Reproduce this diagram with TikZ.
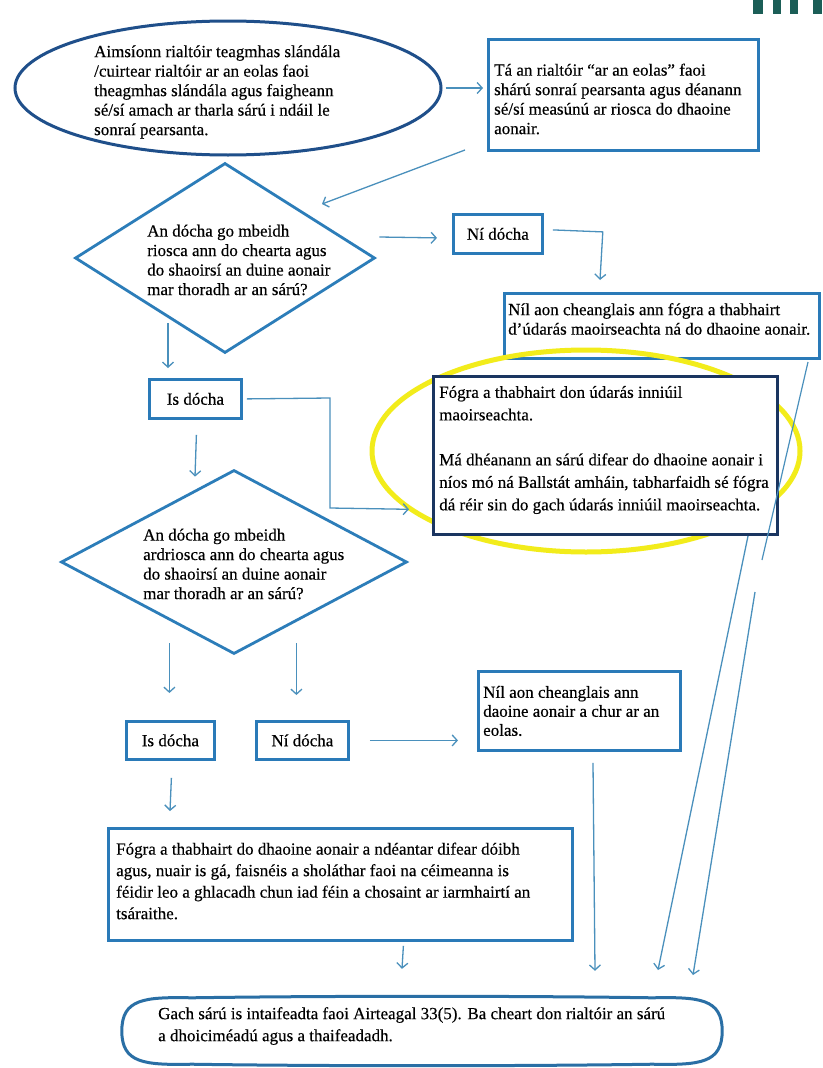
\documentclass[tikz,border=0pt]{standalone}
\usepackage{fontspec}
\setmainfont{Liberation Serif}[FakeBold=0.35]
\usetikzlibrary{arrows.meta,shapes.geometric,calc}
\definecolor{ellblue}{HTML}{1F4F8A}
\definecolor{boxblue}{HTML}{2A7AB8}
\definecolor{diablue}{HTML}{2C7DB9}
\definecolor{arrblue}{HTML}{4A90BC}
\definecolor{navy}{HTML}{1A3560}
\definecolor{ell2blue}{HTML}{2A6FA5}
\definecolor{hiyellow}{HTML}{F2EC1B}
\definecolor{logogreen}{HTML}{1B5E57}
\begin{document}
\begin{tikzpicture}[x=1pt,y=-1pt,
  txt/.style={inner sep=0pt, align=left, font=\fontsize{17}{19.5}\selectfont, text=black},
  box/.style={draw=boxblue, line width=2.8pt, fill=white, inner sep=0pt, anchor=north west},
  arr/.style={draw=arrblue, line width=1.3pt, -{Straight Barb[length=5pt,width=11pt,line width=1.3pt]}},
  thinln/.style={draw=arrblue, line width=1.2pt},
  dia/.style={diamond, draw=diablue, line width=2.8pt, fill=white, inner sep=0pt}]
\useasboundingbox (0,0) rectangle (822,1068);
\fill[white] (0,0) rectangle (822,1068);
% logo fragment
\fill[logogreen] (753,0) rectangle (763,14);
\fill[logogreen] (773,0) rectangle (781,14);
\fill[logogreen] (790,0) rectangle (798,14);
\fill[logogreen] (813,0) rectangle (822,14);

% top ellipse
\node[ellipse, draw=ellblue, line width=3pt, fill=white, minimum width=426, minimum height=134, inner sep=0pt] (e1) at (228,88) {};
\node[txt, anchor=west] (e1t) at (94,92) {Aimsíonn rialtóir teagmhas slándála\\/cuirtear rialtóir ar an eolas faoi\\theagmhas slándála agus faigheann\\sé/sí amach ar tharla sárú i ndáil le\\sonraí pearsanta.};

% top right box
\node[box, minimum width=270, minimum height=111] (b2) at (487,38) {};
\node[txt, anchor=west] (b2t) at (494,99) {Tá an rialtóir “ar an eolas” faoi\\shárú sonraí pearsanta agus déanann\\sé/sí measúnú ar riosca do dhaoine\\aonair.};

% diamond 1
\node[dia, minimum width=300, minimum height=190] (d1) at (225,258) {};
\node[txt, anchor=west] (d1t) at (147,260) {An dócha go mbeidh\\riosca ann do chearta agus\\do shaoirsí an duine aonair\\mar thoradh ar an sárú?};

% Ni docha 1
\node[box, minimum width=89, minimum height=39] (n1) at (452,213) {};
\node[txt] (n1t) at (n1.center) {Ní dócha};

% Nil box 1
\node[box, minimum width=315, minimum height=65] (b3) at (503,292) {};
\node[txt, anchor=west] (b3t) at (508,319) {Níl aon cheanglais ann fógra a thabhairt\\d'údarás maoirseachta ná do dhaoine aonair.};

% yellow highlight
\draw[hiyellow, line width=5pt] (586,451) ellipse [x radius=214, y radius=101];

% Fogra box (supervisory authority)
\node[draw=navy, line width=2.6pt, fill=white, inner sep=0pt, anchor=north west, minimum width=344, minimum height=158] (b4) at (432,375) {};
\node[txt, anchor=west, font=\fontsize{17}{22.5}\selectfont] (b4t) at (439,450) {Fógra a thabhairt don údarás inniúil\\maoirseachta.\\[22.5pt]Má dhéanann an sárú difear do dhaoine aonair i\\níos mó ná Ballstát amháin, tabharfaidh sé fógra\\dá réir sin do gach údarás inniúil maoirseachta.};

% Is docha 1
\node[box, minimum width=92, minimum height=39] (i1) at (148,378) {};
\node[txt] (i1t) at (i1.center) {Is dócha};

% diamond 2
\node[dia, minimum width=346, minimum height=184] (d2) at (234,562) {};
\node[txt, anchor=west] (d2t) at (143,564) {An dócha go mbeidh\\ardriosca ann do chearta agus\\do shaoirsí an duine aonair\\mar thoradh ar an sárú?};

% Is docha 2 / Ni docha 2
\node[box, minimum width=88, minimum height=38] (i2) at (125,720) {};
\node[txt] (i2t) at (i2.center) {Is dócha};
\node[box, minimum width=92, minimum height=38] (n2) at (255,720) {};
\node[txt] (n2t) at (n2.center) {Ní dócha};

% Nil box 2
\node[box, minimum width=202, minimum height=79] (b5) at (477,670) {};
\node[txt, anchor=west, font=\fontsize{17}{19}\selectfont] (b5t) at (483,711) {Níl aon cheanglais ann\\daoine aonair a chur ar an\\eolas.};

% Fogra box 2
\node[box, minimum width=464, minimum height=112] (b6) at (107,827) {};
\node[txt, anchor=west, font=\fontsize{17}{21.5}\selectfont] (b6t) at (116,881) {Fógra a thabhairt do dhaoine aonair a ndéantar difear dóibh\\agus, nuair is gá, faisnéis a sholáthar faoi na céimeanna is\\féidir leo a ghlacadh chun iad féin a chosaint ar iarmhairtí an\\tsáraithe.};

% bottom superellipse
\node[inner sep=0pt, minimum width=600, minimum height=68] (e2) at (422,1031) {};
\draw[ell2blue, line width=3pt, fill=white]
  (e2.west) .. controls ($(e2.west)+(0,-32)$) and ($(e2.north west)+(22,0)$) .. ($(e2.north west)+(70,1)$)
  .. controls ($(e2.north west)+(200,-1)$) and ($(e2.north east)+(-200,-1)$) .. ($(e2.north east)+(-70,1)$)
  .. controls ($(e2.north east)+(-22,0)$) and ($(e2.east)+(0,-32)$) .. (e2.east)
  .. controls ($(e2.east)+(0,32)$) and ($(e2.south east)+(-22,0)$) .. ($(e2.south east)+(-70,-1)$)
  .. controls ($(e2.south east)+(-200,1)$) and ($(e2.south west)+(200,1)$) .. ($(e2.south west)+(70,-1)$)
  .. controls ($(e2.south west)+(22,0)$) and ($(e2.west)+(0,32)$) .. (e2.west) -- cycle;
\node[txt, anchor=west, font=\fontsize{17}{22}\selectfont] (e2t) at (158,1026) {Gach sárú is intaifeadta faoi Airteagal 33(5). Ba cheart don rialtóir an sárú\\a dhoiciméadú agus a thaifeadadh.};

% free connector ends
\coordinate (c2a) at (465,150);
\coordinate (c2b) at (322,204);
\coordinate (c14a) at (808,362);
\coordinate (c14b) at (762,560);
\coordinate (c14c) at (755,592);
\coordinate (c14d) at (693,975);
\coordinate (c13a) at (748,536);
\coordinate (c13b) at (658,970);

% connectors
\draw[arr] ($(e1.east)+(3,0)$) -- ($(b2.west|-e1.east)+(-4,0)$);
\draw[arr] (c2a) -- (c2b);
\draw[arr] ($(d1.east)+(3,-21)$) -- ($(n1.west)+(-15,4)$);
\draw[arr] ($(n1.east)+(9,-4)$) -- ($(n1.east)+(59,-2)$) -- ($(b3.north west)+(97,-12)$);
\draw[arr] ($(i1.north west)+(20,-55)$) -- ($(i1.north west)+(20,-10)$);
\draw[arr] ($(i1.east)+(4,0)$) -- (330,398) -- (330,508) -- ($(b4.west)+(-23,54)$);
\draw[arr] ($(i1.south)+(1,15)$) -- ($(d2.north)+(-39,8)$);
\draw[arr] ($(i2.north)+(-1,-77)$) -- ($(i2.north)+(-1,-27)$);
\draw[arr] ($(n2.north)+(-6,-77)$) -- ($(n2.north)+(-6,-25)$);
\draw[arr] ($(n2.east)+(20,0)$) -- ($(b5.west|-n2.east)+(-19,0)$);
\draw[arr] ($(i2.south)+(1,17)$) -- ($(b6.north west)+(63,-16)$);
\draw[arr] ($(b6.south)+(63,4)$) -- ($(e2.north)+(-20,-28)$);
\draw[arr] ($(b5.south west)+(116,11)$) -- ($(e2.north)+(173,-26)$);
\draw[arr] (c13a) -- (c13b);
\draw[thinln] (c14a) -- (c14b);
\draw[arr] (c14c) -- (c14d);
\end{tikzpicture}
\end{document}
